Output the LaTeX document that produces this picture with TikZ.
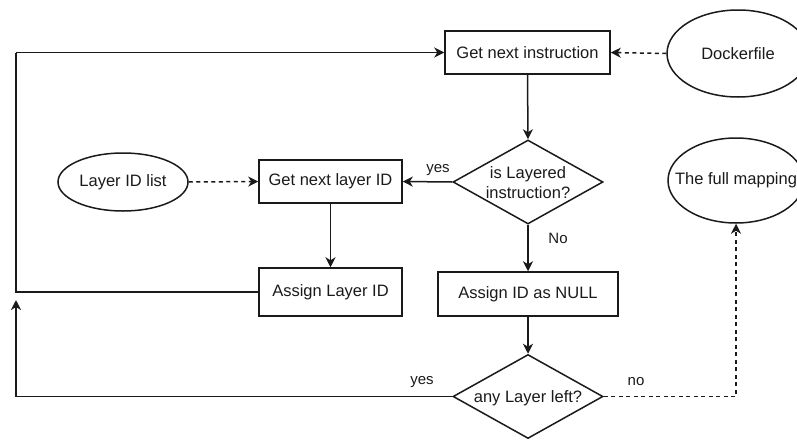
\documentclass[tikz,border=0pt]{standalone}
\usepackage{fontspec}
\setmainfont{Liberation Sans}
\usetikzlibrary{shapes.geometric,arrows.meta}
\definecolor{ink}{HTML}{1A1A1A}
\tikzset{
  base/.style={draw=ink, line width=1.5pt, text=ink, font=\fontsize{16.5}{19}\selectfont},
  procbox/.style={base, rectangle, inner sep=0pt},
  oval/.style={base, ellipse, inner sep=0pt},
  decision/.style={base, diamond, inner sep=0pt},
  txt/.style={text=ink, font=\fontsize{16.5}{20}\selectfont, inner sep=0pt, align=center},
  lbl/.style={text=ink, font=\fontsize{15}{18}\selectfont, inner sep=0pt},
  flow/.style={draw=ink, line width=1.5pt, -{Stealth[length=10pt,width=10pt,inset=3pt]}},
  plain/.style={draw=ink, line width=1.5pt},
  dflow/.style={flow, dash pattern=on 4pt off 3.5pt},
}
\begin{document}
\begin{tikzpicture}[x=1pt,y=-1pt]
\useasboundingbox (0,0) rectangle (797,439);

% process boxes
\node[procbox, minimum width=165, minimum height=43] (ins) at (527.5,52.5) {Get next instruction};
\node[procbox, minimum width=143, minimum height=43] (gnl) at (330.5,181.5) {Get next layer ID};
\node[procbox, minimum width=143, minimum height=48] (ali) at (330.5,292) {Assign Layer ID};
\node[procbox, minimum width=180, minimum height=44] (anull) at (528,294) {Assign ID as NULL};

% data sources and result
\node[oval, minimum width=142, minimum height=87] (dock) at (738,53.5) {Dockerfile};
\node[oval, minimum width=130, minimum height=58] (lil) at (123,182) {Layer ID list};
\node[oval, minimum width=136, minimum height=85] (map) at (736,180.5) {\makebox[0pt]{The full mapping}};

% decisions
\node[decision, minimum width=150, minimum height=84] (isl) at (528,182) {};
\node[txt] (islt) at (528,183) {is Layered\\instruction?};
\node[decision, minimum width=150, minimum height=84] (any) at (528,396.5) {};
\node[txt] (anyt) at (528,398) {any Layer left?};

% loop-back points on the left rail
\coordinate (railTop) at (16,52.5);
\coordinate (railMid) at (16,292);
\coordinate (railBot) at (16,396.5);
\coordinate (railEnd) at (16,300);
\coordinate (mapCorner) at (736,396.5);

% main flow
\draw[flow] (ins.south) -- (isl.north);
\draw[flow] (isl.west) -- (gnl.east);
\draw[flow] (gnl.south) -- (ali.north);
\draw[flow] (isl.south) -- (anull.north);
\draw[flow] (anull.south) -- (any.north);
\draw[plain] (ali.west) -- (railMid) -- (railTop);
\draw[flow] (railTop) -- (ins.west);
\draw[flow] (any.west) -- (railBot) -- (railEnd);

% dashed data links
\draw[dflow] (dock.west) -- (ins.east);
\draw[dflow] (lil.east) -- (gnl.west);
\draw[dflow] (any.east) -- (mapCorner) -- (map.south);

% branch labels
\node[lbl] (l1) at (438,170) {yes};
\node[lbl] (l2) at (558,238) {No};
\node[lbl] (l3) at (422,382) {yes};
\node[lbl] (l4) at (636,382) {no};
\end{tikzpicture}
\end{document}
